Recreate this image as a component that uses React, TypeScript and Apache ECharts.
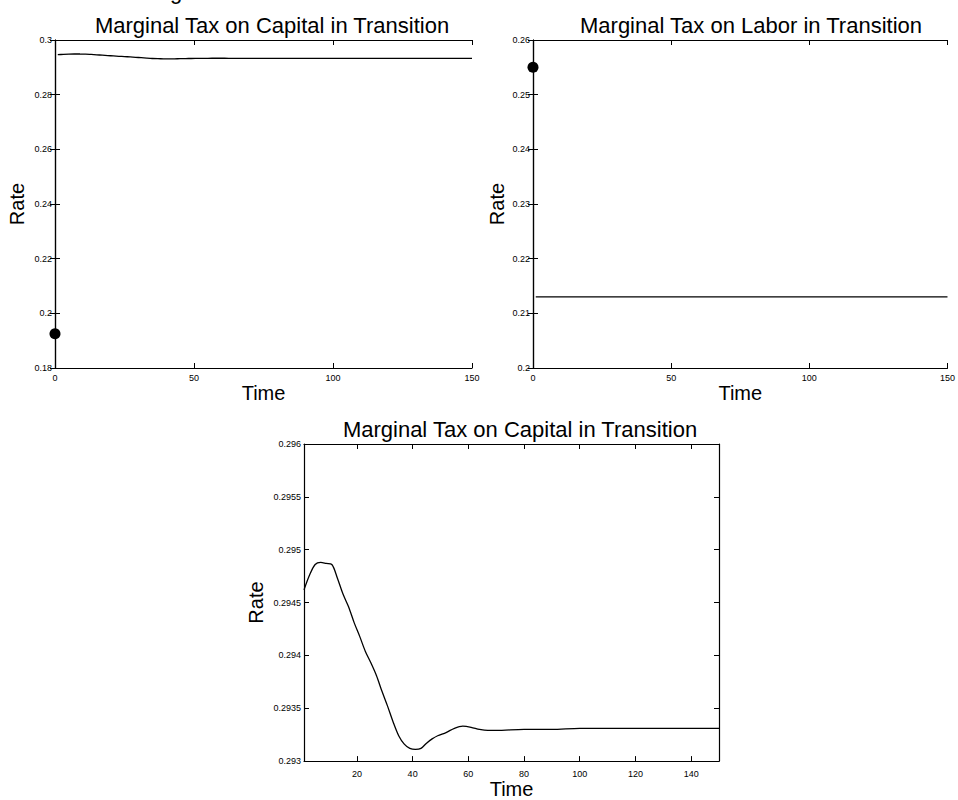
import React, { useEffect, useRef } from "react";
import * as echarts from "echarts";

// ---- data ----
const capitalTimes = [1, 3, 5, 7, 9, 11, 13, 15, 17, 19, 21, 23, 25, 27, 29, 31, 33, 35, 37, 39, 41, 43, 45, 47, 49, 52, 55, 58, 61, 64, 67, 70, 80, 90, 100, 110, 120, 130, 140, 150];
const capitalRates = [
  0.29462, 0.29476, 0.29486, 0.29488, 0.29487, 0.29486, 0.29473, 0.29458, 0.29446, 0.29431,
  0.29418, 0.29404, 0.29393, 0.29381, 0.29366, 0.29352, 0.29337, 0.29324, 0.29316, 0.29312,
  0.29311, 0.29312, 0.29317, 0.29321, 0.29324, 0.29327, 0.29331, 0.29333, 0.29332, 0.29330,
  0.29329, 0.29329, 0.29330, 0.29330, 0.29331, 0.29331, 0.29331, 0.29331, 0.29331, 0.29331,
];
const laborTimes = [1, 150];
const laborRates = [0.213, 0.213];
const initialTime = 0;
const initialCapitalRate = 0.1925;
const initialLaborRate = 0.255;

const titles = [
  "Marginal Tax on Capital in Transition",
  "Marginal Tax on Labor in Transition",
  "Marginal Tax on Capital in Transition",
];
const xName = "Time";
const yName = "Rate";
const zoomXTicks = [20, 40, 60, 80, 100, 120, 140];

const FONT = "'Liberation Sans', Arial, Helvetica, sans-serif";
const BLACK = "#000";

function pairs(xs: number[], ys: number[]) {
  return xs.map((x, i) => [x, ys[i]]);
}

function xAxes(gridIndex: number, min: number, max: number, labelMargin: number, nameGap: number, interval?: number, custom?: number[]) {
  const line = { show: true, lineStyle: { color: BLACK, width: 1.2 } };
  const tick: any = { show: true, inside: true, length: 5, lineStyle: { color: BLACK, width: 1 } };
  if (custom) tick.customValues = custom;
  const label: any = { show: true, fontSize: 9, color: BLACK, fontFamily: FONT, margin: labelMargin };
  if (custom) label.customValues = custom;
  const base: any = { type: "value", gridIndex, min, max, splitLine: { show: false }, axisLine: line, axisTick: tick };
  if (interval !== undefined) base.interval = interval;
  return [
    {
      ...base,
      position: "bottom",
      axisLabel: label,
      name: xName,
      nameLocation: "middle",
      nameGap,
      nameTextStyle: { fontSize: 20, fontFamily: FONT, color: BLACK },
    },
    { ...base, position: "top", axisLabel: { show: false } },
  ];
}

function yAxes(gridIndex: number, min: number, max: number, interval: number, nameGap: number) {
  const line = { show: true, lineStyle: { color: BLACK, width: 1.2 } };
  const tick = { show: true, inside: true, length: 5, lineStyle: { color: BLACK, width: 1 } };
  const base: any = { type: "value", gridIndex, min, max, interval, splitLine: { show: false }, axisLine: line, axisTick: tick };
  return [
    {
      ...base,
      position: "left",
      axisLabel: { show: true, fontSize: 9, color: BLACK, fontFamily: FONT, margin: 3 },
      name: yName,
      nameLocation: "middle",
      nameGap,
      nameTextStyle: { fontSize: 20, fontFamily: FONT, color: BLACK },
    },
    { ...base, position: "right", axisLabel: { show: false } },
  ];
}

export default function App() {
  const ref = useRef<HTMLDivElement>(null);

  useEffect(() => {
    if (!ref.current) return;
    const chart = echarts.init(ref.current, undefined, { renderer: "svg" });
    const lineStyle = { color: BLACK, width: 1.3 };
    const dotStyle = { color: BLACK, opacity: 1 };
    const titleStyle = { fontSize: 22, fontWeight: "normal", fontFamily: FONT, color: BLACK };
    const option: any = {
      animation: false,
      backgroundColor: "#fff",
      title: [
        { text: titles[0], left: 267, top: 9, textAlign: "center", textStyle: titleStyle },
        { text: titles[1], left: 746, top: 9, textAlign: "center", textStyle: titleStyle },
        { text: titles[2], left: 515, top: 413, textAlign: "center", textStyle: titleStyle },
      ],
      graphic: [
        { type: "text", x: 170, y: 2, silent: true, style: { text: "g", fontSize: 22, fontFamily: FONT, fill: BLACK, verticalAlign: "bottom", align: "left" } },
      ],
      grid: [
        { left: 55, top: 40, width: 417, height: 328 },
        { left: 533, top: 40, width: 418, height: 328 },
        { left: 304, top: 444, width: 415, height: 327 },
      ],
      xAxis: [
        ...xAxes(0, 0, 150, 5, 13, 50),
        ...xAxes(1, 0, 150, 5, 13, 50),
        ...xAxes(2, 1, 150, 8, 16, undefined, zoomXTicks),
      ],
      yAxis: [
        ...yAxes(0, 0.18, 0.3, 0.02, 28),
        ...yAxes(1, 0.2, 0.26, 0.01, 26),
        ...yAxes(2, 0.293, 0.296, 0.0005, 38),
      ],
      series: [
        { type: "line", xAxisIndex: 0, yAxisIndex: 0, data: pairs(capitalTimes, capitalRates), showSymbol: false, smooth: 0.3, lineStyle, itemStyle: dotStyle },
        { type: "scatter", xAxisIndex: 0, yAxisIndex: 0, data: [[initialTime, initialCapitalRate]], symbolSize: 11, clip: false, itemStyle: dotStyle },
        { type: "line", xAxisIndex: 2, yAxisIndex: 2, data: pairs(laborTimes, laborRates), showSymbol: false, lineStyle, itemStyle: dotStyle },
        { type: "scatter", xAxisIndex: 2, yAxisIndex: 2, data: [[initialTime, initialLaborRate]], symbolSize: 11, clip: false, itemStyle: dotStyle },
        { type: "line", xAxisIndex: 4, yAxisIndex: 4, data: pairs(capitalTimes, capitalRates), showSymbol: false, smooth: 0.3, lineStyle, itemStyle: dotStyle },
      ],
    };
    chart.setOption(option);
    return () => chart.dispose();
  }, []);

  return (
    <div
      ref={ref}
      style={{ position: "fixed", left: 0, top: 0, width: 958, height: 800, background: "#fff" }}
    />
  );
}
